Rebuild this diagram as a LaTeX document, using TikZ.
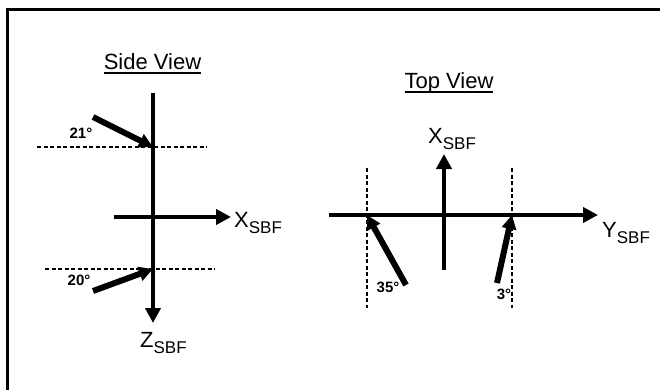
\documentclass[tikz,border=0pt]{standalone}
\usepackage{fontspec}
\setmainfont{Liberation Sans}
\usetikzlibrary{arrows.meta,positioning}

% Axis name with the SBF subscript set lower and smaller.
\newcommand{\sbfaxis}[1]{#1\raisebox{-6pt}{\fontsize{17}{17}\selectfont SBF}}
% Title underlined at a fixed depth, also under descenders.
\newcommand{\viewtitle}[1]{\setbox0\hbox{#1}\rlap{\vrule height -2pt depth 3.8pt width \wd0}\box0}

\begin{document}
\begin{tikzpicture}[
  x=1pt,y=-1pt,
  line join=miter,
  axis/.style={line width=4pt,-{Triangle[length=15pt,width=15pt]}},
  incoming/.style={line width=6pt,-{Triangle[length=14pt,width=14pt]}},
  guide/.style={line width=1.6pt,dash pattern=on 4pt off 2.5pt},
  axislabel/.style={anchor=base west,inner sep=0pt,font=\fontsize{22}{22}\selectfont},
  anglelabel/.style={inner sep=0pt,font=\fontsize{15}{15}\selectfont\bfseries},
  viewlabel/.style={anchor=base,inner sep=0pt,font=\fontsize{22}{22}\selectfont}
]
% Bounding box.
\useasboundingbox (0,0) rectangle (660,390);
% Frame, open at the right and the bottom.
\draw[line width=3.5pt] (7.5,390) -- (7.5,9.5) -- (660,9.5);

% (a) Side view.
\node[viewlabel] (sideTitle) at (152.5,70) {\viewtitle{Side View}};
\coordinate (zTop) at (153,93);
\coordinate (zTip) at (153,323);
\coordinate (xTail) at (114,217);
\coordinate (xTip) at (231,217);
\draw[axis] (zTop) -- (zTip);
\draw[axis] (xTail) -- (xTip);
\node[axislabel] (xSide) at (234,227) {\sbfaxis{X}};
\node[axislabel] (zSide) at (140,347) {\sbfaxis{Z}};

\coordinate (guideUpL) at (37,147);
\coordinate (guideUpR) at (207,147);
\coordinate (guideLowL) at (45,269);
\coordinate (guideLowR) at (215,269);
\draw[guide] (guideUpL) -- (guideUpR);
\draw[guide] (guideLowL) -- (guideLowR);

\coordinate (inUpTail) at (93,117);
\coordinate (inUpTip) at (153,147);
\coordinate (inLowTail) at (93,291);
\coordinate (inLowTip) at (153,269);
\draw[incoming] (inUpTail) -- (inUpTip);
\draw[incoming] (inLowTail) -- (inLowTip);
\node[anglelabel] (angUp) at (81,133) {21°};
\node[anglelabel] (angLow) at (79,280) {20°};

% (b) Top view.
\node[viewlabel] (topTitle) at (449,89) {\viewtitle{Top View}};
\coordinate (yTail) at (329,215);
\coordinate (yTip) at (598,215);
\coordinate (xTopTail) at (444,270);
\coordinate (xTopTip) at (444,154);
\draw[axis] (yTail) -- (yTip);
\draw[axis] (xTopTail) -- (xTopTip);
\node[axislabel] (xTop) at (428,143) {\sbfaxis{X}};
\node[axislabel] (yTop) at (602,237) {\sbfaxis{Y}};

\coordinate (guideLeftT) at (367,168);
\coordinate (guideLeftB) at (367,308);
\coordinate (guideRightT) at (512,168);
\coordinate (guideRightB) at (512,308);
\draw[guide] (guideLeftT) -- (guideLeftB);
\draw[guide] (guideRightT) -- (guideRightB);

\coordinate (inLeftTail) at (406,285);
\coordinate (inLeftTip) at (367,215);
\coordinate (inRightTail) at (497,283);
\coordinate (inRightTip) at (512,215);
\draw[incoming] (inLeftTail) -- (inLeftTip);
\draw[incoming] (inRightTail) -- (inRightTip);
\node[anglelabel] (angLeft) at (388,287) {35°};
\node[anglelabel] (angRight) at (504,294) {3°};
\end{tikzpicture}
\end{document}
